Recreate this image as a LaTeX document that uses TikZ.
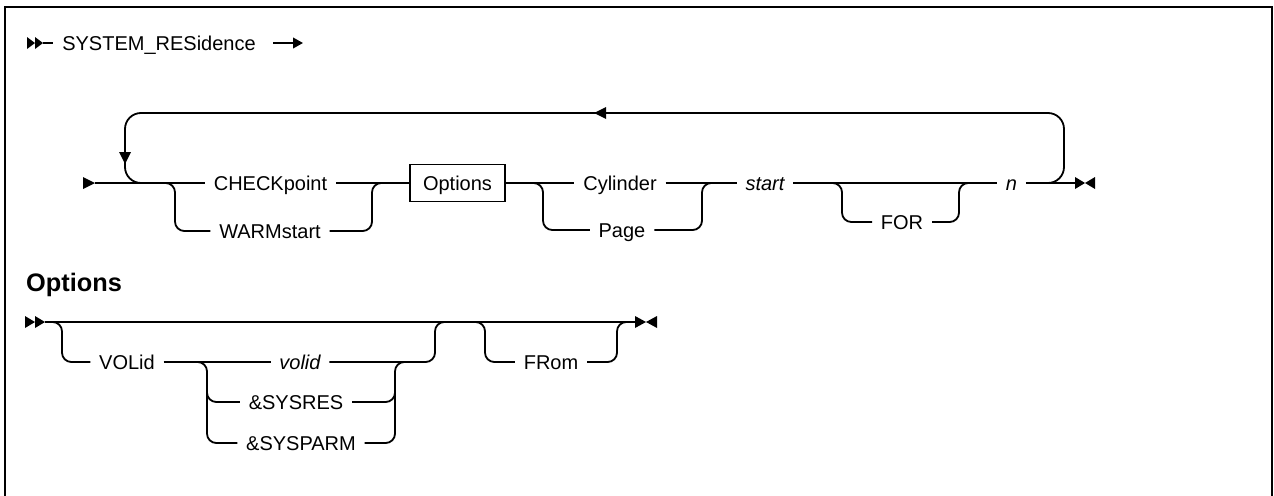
\documentclass[tikz,border=0pt]{standalone}
\usepackage{fontspec}
\setmainfont{Liberation Sans}
\usetikzlibrary{arrows.meta}
\begin{document}
\begin{tikzpicture}[x=0.75pt,y=-0.75pt,line width=1.35pt,
  lbl/.style={font=\fontsize{15}{18}\selectfont, inner xsep=6pt, inner ysep=0pt, text height=10.75pt, text depth=0pt},
  ital/.style={lbl, font=\fontsize{15}{18}\selectfont\itshape},
  boxnode/.style={lbl, draw, inner xsep=0pt, minimum width=71.25pt, minimum height=27.75pt},
  heading/.style={font=\fontsize{19}{22}\selectfont\bfseries, inner sep=0pt, text height=13.6pt, text depth=0pt},
  rc/.style={rounded corners=7pt},
  loopc/.style={rounded corners=12pt},
  frame/.style={line width=1.5pt}]
\useasboundingbox (0,0) rectangle (1274,496);

% frame (open at the bottom)
\draw[frame] (5,496) -- (5,7) -- (1272,7) -- (1272,496);

% ---------- header ----------
\fill (27,37) -- (35,43) -- (27,49) -- cycle;
\fill (35,37) -- (43,43) -- (35,49) -- cycle;
\coordinate (h0) at (43,43);
\node[lbl] (hd) at (159,43) {SYSTEM\_RESidence};
\coordinate (hend) at (303,43);
\draw (h0) -- (hd.west);
\draw[-{Triangle[length=7.5pt,width=8pt]}] ([xshift=6.5pt]hd.east) -- (hend);

% ---------- main diagram ----------
\fill (83,177) -- (95,183) -- (83,189) -- cycle;
\coordinate (m0) at (95,183);
\node[lbl] (chk) at (270.5,183) {CHECKpoint};
\node[lbl] (warm) at (270,231) {WARMstart};
\node[boxnode] (opt) at (457.5,183) {Options};
\node[lbl] (cyl) at (620,183) {Cylinder};
\node[lbl] (page) at (622,230) {Page};
\node[ital] (start) at (765,183) {start};
\node[lbl] (for) at (902,222) {FOR};
\node[ital] (n) at (1011.5,183) {n};
\coordinate (mend) at (1075,183);

\draw (m0) -- (chk.west);
\draw[rc] (165,183) -| (175,231) -- (warm.west);
\draw (chk.east) -- (opt.west);
\draw[rc] (warm.east) -| (372,183) -- (382,183);
\draw (opt.east) -- (cyl.west);
\draw[rc] (533,183) -| (543,230) -- (page.west);
\draw (cyl.east) -- (start.west);
\draw[rc] (page.east) -| (702,183) -- (712,183);
\draw (start.east) -- (n.west);
\draw[rc] (832,183) -| (842,222) -- (for.west);
\draw[rc] (for.east) -| (959,183) -- (969,183);
\draw (n.east) -- (mend);
\fill (1075,177) -- (1085,183) -- (1075,189) -- cycle;
\fill (1095,177) -- (1085,183) -- (1095,189) -- cycle;

% repeat loop
\draw[loopc] (1045,183) -| (1064,113) -| (125,183) -- (141,183);
\fill (119,152) -- (131,152) -- (125,164) -- cycle;
\fill (606,107) -- (606,119) -- (594,113) -- cycle;

% ---------- Options fragment ----------
\node[heading] (ohd) at (74,282) {Options};
\fill (25,316) -- (35,322) -- (25,328) -- cycle;
\fill (35,316) -- (45,322) -- (35,328) -- cycle;
\coordinate (o0) at (45,322);
\coordinate (oend) at (635,322);
\draw (o0) -- (oend);
\fill (635,316) -- (646,322) -- (635,328) -- cycle;
\fill (657,316) -- (646,322) -- (657,328) -- cycle;

\node[lbl] (vol) at (127,362) {VOLid};
\node[ital] (volid) at (300,362) {volid};
\node[lbl] (sysres) at (296,402) {\&SYSRES};
\node[lbl] (sysparm) at (301,443) {\&SYSPARM};
\node[lbl] (from) at (551,362) {FRom};

\draw[rc] (53,322) -| (62,362) -- (vol.west);
\draw (vol.east) -- (volid.west);
\draw[rc] (198,362) -| (207,443) -- (sysparm.west);
\draw[rc] (207,380) |- (sysres.west);
\draw[rc] (volid.east) -| (435,322) -- (445,322);
\draw[rc] (sysparm.east) -| (395,362) -- (405,362);
\draw[rc] (sysres.east) -| (395,380);
\draw[rc] (477,322) -| (485,362) -- (from.west);
\draw[rc] (from.east) -| (617,322) -- (627,322);
\end{tikzpicture}
\end{document}
